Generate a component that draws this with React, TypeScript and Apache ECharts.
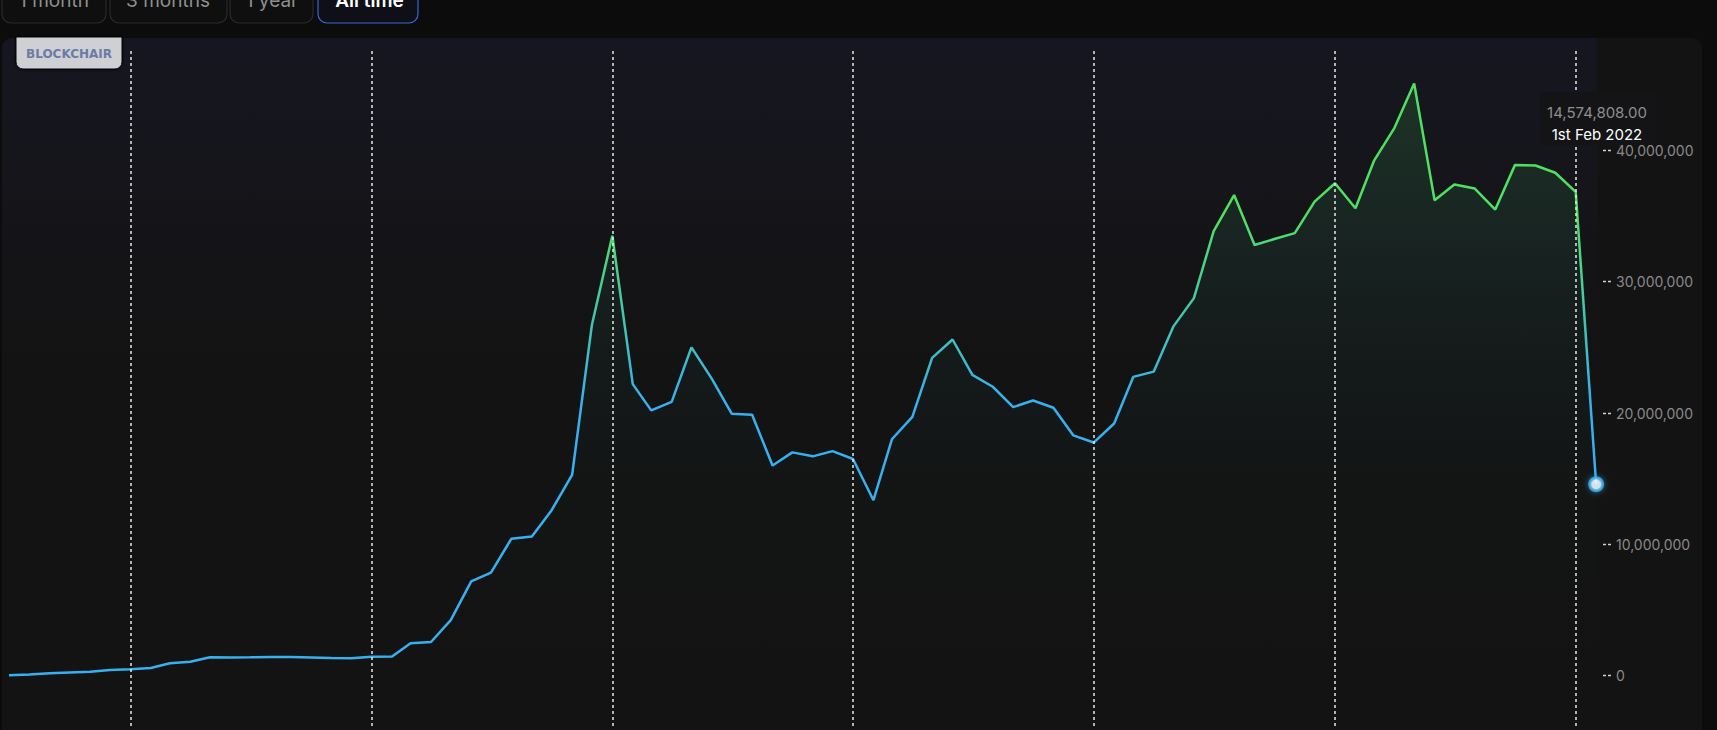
import React, { useEffect, useRef } from "react";
import * as echarts from "echarts";

// Monthly points from Jul 2015 to Feb 2022 (1st of each month)
const startYear = 2015;
const startMonth = 6; // July, 0-based
const volumeMillions = [
  0.03, 0.08, 0.17, 0.24, 0.3, 0.43,
  0.48, 0.58, 0.94, 1.06, 1.39, 1.38, 1.39, 1.41, 1.42, 1.38, 1.34, 1.32,
  1.44, 1.45, 2.46, 2.56, 4.23, 7.18, 7.85, 10.43, 10.6, 12.6, 15.28, 26.7,
  33.5, 22.2, 20.2, 20.85, 25.0, 22.6, 19.95, 19.87, 16.0, 17.0, 16.7, 17.1,
  16.5, 13.36, 18.0, 19.7, 24.2, 25.6, 22.9, 22.0, 20.45, 20.95, 20.4, 18.3,
  17.75, 19.2, 22.75, 23.15, 26.6, 28.75, 33.85, 36.6, 32.8, 33.25, 33.7, 36.1,
  37.5, 35.6, 39.2, 41.7, 45.1, 36.2, 37.4, 37.1, 35.5, 38.9, 38.85, 38.3,
  36.85, 14.574808,
];
const yTickValues = [0, 10000000, 20000000, 30000000, 40000000];
const yearTicks = [2016, 2017, 2018, 2019, 2020, 2021, 2022];
const buttonLabels = ["1 month", "3 months", "1 year", "All time"];
const badgeText = "BLOCKCHAIR";
const tooltipValue = "14,574,808.00";
const tooltipDate = "1st Feb 2022";

const DAY = 86400000;

export default function App() {
  const ref = useRef<HTMLDivElement>(null);

  useEffect(() => {
    if (!ref.current) return;
    const chart = echarts.init(ref.current, null, { renderer: "svg" });

    const points = volumeMillions.map((v, i) => [
      Date.UTC(startYear, startMonth + i, 1),
      v * 1000000,
    ]);
    const last = points[points.length - 1];
    const yearStamps = yearTicks.map((y) => Date.UTC(y, 0, 1));

    const xMin = Date.UTC(2016, 0, 1) - 197.6 * DAY;
    const xMax = Date.UTC(2022, 0, 1) + 41.4 * DAY;

    const btnRects = [
      [2, 104],
      [110, 117],
      [230, 83],
      [318, 100],
    ];
    const btnCenters = [54, 168, 272, 369.5];

    const graphic: any[] = [
      {
        type: "rect",
        z: -10,
        silent: true,
        shape: { x: 2, y: 38, width: 1700, height: 760, r: 10 },
        style: { fill: "#131313" },
      },
      {
        type: "rect",
        z: -9,
        silent: true,
        shape: { x: 2, y: 38, width: 1595, height: 320, r: [10, 0, 0, 0] },
        style: {
          fill: new echarts.graphic.LinearGradient(0, 0, 0, 1, [
            { offset: 0, color: "rgba(32,32,72,0.26)" },
            { offset: 1, color: "rgba(32,32,72,0)" },
          ]),
        },
      },
      {
        type: "rect",
        z: 50,
        silent: true,
        shape: { x: 16, y: 37, width: 106, height: 32, r: [0, 0, 7, 7] },
        style: {
          fill: "#cfd0d4",
          stroke: "#050505",
          lineWidth: 1,
          shadowBlur: 3,
          shadowColor: "rgba(0,0,0,0.8)",
        },
      },
      {
        type: "text",
        z: 51,
        silent: true,
        x: 69,
        y: 53.5,
        style: {
          text: badgeText,
          fill: "#6c7ba6",
          font: "bold 12px 'DejaVu Sans'",
          align: "center",
          verticalAlign: "middle",
        },
      },
      {
        type: "rect",
        z: 100,
        silent: true,
        shape: { x: 1540, y: 92, width: 115, height: 53 },
        style: { fill: "#141416" },
      },
      {
        type: "text",
        z: 101,
        silent: true,
        x: 1597,
        y: 112.5,
        style: {
          text: tooltipValue,
          fill: "#8e8e8e",
          font: "15px Inter",
          align: "center",
          verticalAlign: "middle",
        },
      },
      {
        type: "text",
        z: 101,
        silent: true,
        x: 1597,
        y: 134,
        style: {
          text: tooltipDate,
          fill: "#ffffff",
          font: "15px Inter",
          align: "center",
          verticalAlign: "middle",
        },
      },
    ];

    buttonLabels.forEach((label, i) => {
      const active = i === buttonLabels.length - 1;
      graphic.push({
        type: "rect",
        z: 20,
        silent: true,
        shape: { x: btnRects[i][0], y: -22, width: btnRects[i][1], height: 45, r: 9 },
        style: {
          fill: active ? "#0e0f17" : "#0f0f0f",
          stroke: active ? "#3f63d6" : "#2a2a2a",
          lineWidth: 1.2,
        },
      });
      graphic.push({
        type: "text",
        z: 21,
        silent: true,
        x: btnCenters[i],
        y: 0,
        style: {
          text: label,
          fill: active ? "#ffffff" : "#8f8f8f",
          font: (active ? "600 " : "400 ") + "19px Inter",
          align: "center",
          verticalAlign: "middle",
        },
      });
    });

    const lineColor = {
      type: "linear",
      x: 0,
      y: 215,
      x2: 0,
      y2: 405,
      global: true,
      colorStops: [
        { offset: 0, color: "#4fe062" },
        { offset: 1, color: "#36b0f0" },
      ],
    };
    const areaColor = {
      type: "linear",
      x: 0,
      y: 84,
      x2: 0,
      y2: 676,
      global: true,
      colorStops: [
        { offset: 0, color: "rgba(70,200,70,0.24)" },
        { offset: 0.5, color: "rgba(40,140,140,0.07)" },
        { offset: 1, color: "rgba(19,19,19,0)" },
      ],
    };

    chart.setOption({
      animation: false,
      backgroundColor: "#0c0c0c",
      grid: { left: 0, right: 114, top: 50, bottom: 34 },
      xAxis: {
        type: "value",
        min: xMin,
        max: xMax,
        axisLine: { show: false },
        axisTick: { show: false },
        splitLine: { show: false },
        axisLabel: {
          customValues: yearStamps,
          formatter: (v: number) => String(new Date(v).getUTCFullYear()),
          color: "#8a8a8a",
          fontSize: 13,
          fontFamily: "Inter",
          margin: 4,
        },
      },
      yAxis: {
        type: "value",
        position: "right",
        min: -3840000,
        max: 47650000,
        splitLine: { show: false },
        axisLine: { show: false },
        axisTick: {
          show: true,
          customValues: yTickValues,
          length: 9,
          lineStyle: { color: "#d0d0d0", type: [3, 2], width: 1.3 },
        },
        axisLabel: {
          customValues: yTickValues,
          formatter: (v: number) => v.toLocaleString("en-US"),
          color: "#8a8a8a",
          fontSize: 14,
          fontFamily: "Inter",
          margin: 13,
        },
      },
      series: [
        {
          type: "line",
          data: points,
          symbol: "none",
          z: 3,
          lineStyle: { width: 2.5, color: lineColor },
          areaStyle: { color: areaColor },
          markLine: {
            silent: true,
            symbol: ["none", "none"],
            label: { show: false },
            lineStyle: { color: "#e8e8e8", type: [3, 3], width: 1.5 },
            data: yearStamps.map((t) => ({ xAxis: t })),
          },
        },
        {
          type: "scatter",
          data: [last],
          z: 6,
          symbol: "circle",
          symbolSize: 13,
          itemStyle: {
            color: "#ffffff",
            borderColor: "#38b0ee",
            borderWidth: 3,
            shadowBlur: 6,
            shadowColor: "rgba(56,176,238,0.6)",
          },
        },
      ],
      graphic,
    });

    return () => chart.dispose();
  }, []);

  return (
    <div
      style={{
        position: "fixed",
        left: 0,
        top: 0,
        width: 1717,
        height: 730,
        overflow: "hidden",
        background: "#0c0c0c",
      }}
    >
      <div ref={ref} style={{ width: 1717, height: 760 }} />
    </div>
  );
}
